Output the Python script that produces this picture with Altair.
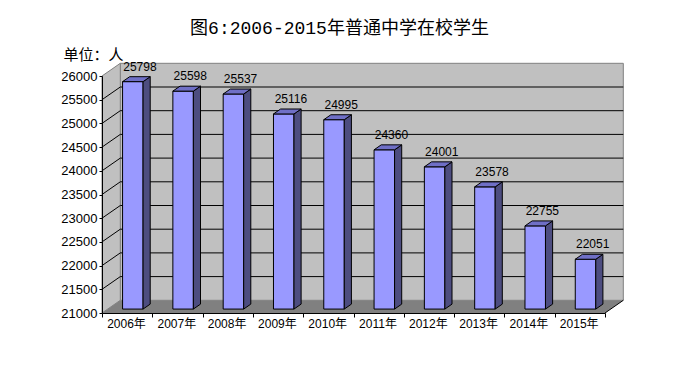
import altair as alt
import pandas as pd

# ---- data ----
years = ["2006年", "2007年", "2008年", "2009年", "2010年",
         "2011年", "2012年", "2013年", "2014年", "2015年"]
values = [25798, 25598, 25537, 25116, 24995, 24360, 24001, 23578, 22755, 22051]
y_ticks = [21000, 21500, 22000, 22500, 23000, 23500, 24000, 24500, 25000, 25500, 26000]
title_text = "图6:2006-2015年普通中学在校学生"
unit_text = "单位：人"

# ---- geometry / style constants ----
W, H = 503, 237
Y0, Y1 = y_ticks[0], y_ticks[-1]
N = len(values)
BAND = W / N
DX = 18.3 / BAND                 # depth of the box, in x units
DY = 12.7 / H * (Y1 - Y0)        # depth of the box, in y units
P0, P1 = 0.31, 0.70              # bar depth range (fraction of box depth)
HW = 10.25 / BAND                # bar half width, x units

NUM_FONT = "Liberation Sans, Noto Sans CJK SC"
CJK_FONT = "Noto Sans CJK SC"

xs = alt.Scale(domain=[0, N], nice=False, zero=False)
ys = alt.Scale(domain=[Y0, Y1], nice=False, zero=False)

label_array = "[" + ",".join("'%s'" % y for y in years) + "]"

AX_X = alt.Axis(
    values=list(range(N + 1)), tickSize=4, tickColor="black", domainColor="black",
    labelExpr="datum.value < %d ? %s[datum.value] : ''" % (N, label_array),
    labelOffset=24, labelFont=NUM_FONT, labelFontSize=12, labelColor="black",
    labelPadding=1, labelOverlap=False, labelBound=False, labelFlush=False,
    grid=False, title=None, zindex=1)
AX_Y = alt.Axis(
    values=y_ticks, format="d", tickSize=3, tickColor="black", domainColor="black",
    labelFont=NUM_FONT, labelFontSize=13, labelColor="black", labelPadding=2,
    labelOverlap=False, labelBound=False, labelFlush=False, grid=False,
    title=unit_text, titleAngle=0, titleAlign="left", titleBaseline="alphabetic",
    titleX=-39, titleY=-17, titleFont=CJK_FONT, titleFontSize=15,
    titleFontWeight="normal", titleColor="black", zindex=1)


def X(field, **kw):
    return alt.X(field, scale=xs, axis=AX_X, **kw)


def Y(field, **kw):
    return alt.Y(field, scale=ys, axis=AX_Y, **kw)


# ---- tables built from the arrays ----
back = pd.DataFrame([{"x": DX, "x2": N + DX, "y": Y0 + DY, "y2": Y1 + DY}])
left = pd.DataFrame([{"x": 0.0, "lo": Y0, "hi": Y1},
                     {"x": DX, "lo": Y0 + DY, "hi": Y1 + DY}])
floor = pd.DataFrame([{"y": Y0, "xl": 0.0, "xr": N},
                      {"y": Y0 + DY, "xl": DX, "xr": N + DX}])
inner = y_ticks[1:-1]
grid_back = pd.DataFrame({"x": DX, "x2": N + DX, "y": [v + DY for v in inner]})
grid_diag = pd.DataFrame({"x": 0.0, "x2": DX, "y": inner, "y2": [v + DY for v in inner]})
floor_edge = pd.DataFrame([{"x": N, "x2": N + DX, "y": Y0, "y2": Y0 + DY}])

front_rows, side_rows, top_rows, lab_rows = [], [], [], []
for i, (yr, v) in enumerate(zip(years, values)):
    c = i + 0.5
    front_rows.append({"year": yr, "x": c - HW + P0 * DX, "x2": c + HW + P0 * DX,
                       "y": Y0 + P0 * DY, "y2": v + P0 * DY})
    for p in (P0, P1):
        side_rows.append({"year": yr, "x": c + HW + p * DX,
                          "lo": Y0 + p * DY, "hi": v + p * DY})
        top_rows.append({"year": yr, "y": v + p * DY,
                         "xl": c - HW + p * DX, "xr": c + HW + p * DX})
    lab_rows.append({"year": yr, "x": c + 0.7 * DX, "y": v + P1 * DY, "label": str(v)})
front = pd.DataFrame(front_rows)
side = pd.DataFrame(side_rows)
top = pd.DataFrame(top_rows)
labs = pd.DataFrame(lab_rows)

# ---- layers ----
back_wall = alt.Chart(back).mark_rect(fill="#C0C0C0", stroke="#808080", strokeWidth=1).encode(
    x=X("x:Q"), x2="x2:Q", y=Y("y:Q"), y2="y2:Q")

left_wall = alt.Chart(left).mark_area(orient="vertical", fill="#C0C0C0", stroke="#808080",
                                      strokeWidth=1).encode(
    x=X("x:Q"), y=Y("hi:Q", stack=None), y2="lo:Q")

floor_l = alt.Chart(floor).mark_area(orient="horizontal", fill="#808080").encode(
    y=Y("y:Q"), x=X("xl:Q", stack=None), x2="xr:Q")

gb = alt.Chart(grid_back).mark_rule(color="black", strokeWidth=1).encode(
    x=X("x:Q"), x2="x2:Q", y=Y("y:Q"))
gd = alt.Chart(grid_diag).mark_rule(color="black", strokeWidth=1).encode(
    x=X("x:Q"), x2="x2:Q", y=Y("y:Q"), y2="y2:Q")
fe = alt.Chart(floor_edge).mark_rule(color="black", strokeWidth=1).encode(
    x=X("x:Q"), x2="x2:Q", y=Y("y:Q"), y2="y2:Q")

bar_front = alt.Chart(front).mark_rect(fill="#9999FF", stroke="black", strokeWidth=1).encode(
    x=X("x:Q"), x2="x2:Q", y=Y("y:Q"), y2="y2:Q")
bar_side = alt.Chart(side).mark_area(orient="vertical", fill="#4D4D80", stroke="black",
                                     strokeWidth=1).encode(
    x=X("x:Q"), y=Y("hi:Q", stack=None), y2="lo:Q", detail="year:N")
bar_top = alt.Chart(top).mark_area(orient="horizontal", fill="#6F6FC6", stroke="black",
                                   strokeWidth=1).encode(
    y=Y("y:Q"), x=X("xl:Q", stack=None), x2="xr:Q", detail="year:N")
value_text = alt.Chart(labs).mark_text(font=NUM_FONT, fontSize=12, color="black",
                                       align="center", baseline="alphabetic", dy=-6).encode(
    x=X("x:Q"), y=Y("y:Q"), text="label:N")

chart = alt.layer(
    back_wall, left_wall, floor_l, gb, gd, fe, bar_front, bar_side, bar_top, value_text
).properties(
    width=W, height=H,
    padding={"left": 94, "top": 68, "right": 67, "bottom": 60},
    autosize=alt.AutoSizeParams(type="none"),
    title=alt.TitleParams(title_text, font="Liberation Mono, Noto Sans CJK SC", fontSize=18,
                          fontWeight="normal", color="black", anchor="middle",
                          frame="group", dx=-14, offset=9),
).configure_view(stroke=None).configure(background="white")

chart.save("out.html", embed_options={"renderer": "svg", "actions": False})
